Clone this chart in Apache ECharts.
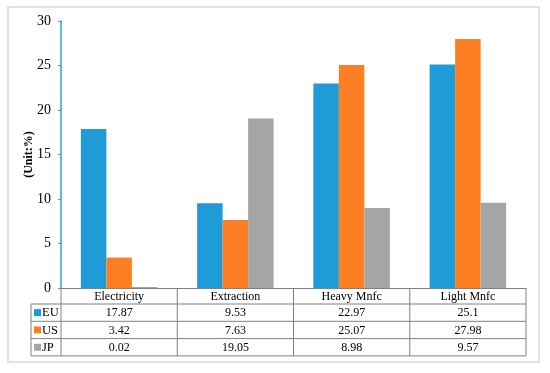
<!DOCTYPE html>
<html><head><meta charset="utf-8">
<script src="https://cdn.jsdelivr.net/npm/echarts@6/dist/echarts.min.js"></script>
<style>html,body{margin:0;padding:0;background:#fff}#c{width:550px;height:373px}</style>
</head><body><div id="c"></div>
<script>
const categories = ['Electricity', 'Extraction', 'Heavy Mnfc', 'Light Mnfc'];
const seriesNames = ['EU', 'US', 'JP'];
const euValues = [17.87, 9.53, 22.97, 25.1];
const usValues = [3.42, 7.63, 25.07, 27.98];
const jpValues = [0.02, 19.05, 8.98, 9.57];
const yTicks = [0, 5, 10, 15, 20, 25, 30];
const axisTitle = '(Unit:%)';

const colors = ['#1f9bd7', '#fd7f24', '#a5a5a5'];
const values = [euValues, usValues, jpValues];
const FONT = 'Liberation Serif';

const chart = echarts.init(document.getElementById('c'));
const G = {left: 61, right: 24, top: 21, bottom: 85};
chart.setOption({
  animation: false,
  backgroundColor: '#fff',
  grid: G,
  xAxis: {
    type: 'category', data: categories,
    axisLine: {lineStyle: {color: '#808080', width: 1}},
    axisTick: {show: false}, axisLabel: {show: false}
  },
  yAxis: {
    type: 'value', min: yTicks[0], max: yTicks[yTicks.length - 1], interval: yTicks[1] - yTicks[0],
    name: axisTitle, nameLocation: 'middle', nameGap: 26, nameRotate: 90, nameMoveOverlap: false,
    nameTextStyle: {fontFamily: FONT, fontSize: 12, fontWeight: 'bold', color: '#000'},
    axisLine: {show: true, lineStyle: {color: '#29a3e0', width: 1.5}},
    axisTick: {show: true, length: 3, lineStyle: {color: '#29a3e0'}},
    axisLabel: {fontFamily: FONT, fontSize: 14, color: '#000', margin: 10},
    splitLine: {show: false}
  },
  series: seriesNames.map((n, i) => ({
    name: n, type: 'bar', data: values[i], barWidth: 25.5, barGap: '0%', barMinHeight: 1,
    itemStyle: {color: colors[i]}
  }))
});

function drawTable() {
  const y0 = chart.convertToPixel({yAxisIndex: 0}, 0);
  const half = (550 - G.left - G.right) / categories.length / 2;
  const centers = categories.map((c, i) => chart.convertToPixel({xAxisIndex: 0}, i));
  const colEdges = [G.left].concat(centers.map(c => c + half));
  const legendLeft = 31;
  const right = colEdges[colEdges.length - 1];
  const rowH = [16, 17.3, 17.3, 17.3];
  const rowEdges = [y0];
  rowH.forEach(h => rowEdges.push(rowEdges[rowEdges.length - 1] + h));
  const line = {stroke: '#808080', lineWidth: 1};
  const g = [];
  g.push({type: 'rect', shape: {x: 8, y: 7, width: 531, height: 355}, style: {fill: null, stroke: '#d9d9d9', lineWidth: 1.5}, silent: true});
  rowEdges.forEach((y, k) => {
    if (k === 0) return;
    g.push({type: 'line', shape: {x1: legendLeft, y1: y, x2: right, y2: y}, style: line, silent: true});
  });
  colEdges.forEach((x) => {
    g.push({type: 'line', shape: {x1: x, y1: y0, x2: x, y2: rowEdges[rowEdges.length - 1]}, style: line, silent: true});
  });
  g.push({type: 'line', shape: {x1: legendLeft, y1: rowEdges[1], x2: legendLeft, y2: rowEdges[rowEdges.length - 1]}, style: line, silent: true});
  categories.forEach((c, i) => {
    g.push({type: 'text', x: centers[i], y: (rowEdges[0] + rowEdges[1]) / 2 + 0.5,
      style: {text: c, fontFamily: FONT, fontSize: 12, fill: '#000', align: 'center', verticalAlign: 'middle'}, silent: true});
  });
  seriesNames.forEach((n, r) => {
    const yc = (rowEdges[r + 1] + rowEdges[r + 2]) / 2 + 0.5;
    g.push({type: 'rect', shape: {x: legendLeft + 3, y: yc - 4, width: 7, height: 7}, style: {fill: colors[r]}, silent: true});
    g.push({type: 'text', x: legendLeft + 11, y: yc, style: {text: n, fontFamily: FONT, fontSize: 12.5, fill: '#000', align: 'left', verticalAlign: 'middle'}, silent: true});
    values[r].forEach((v, i) => {
      g.push({type: 'text', x: centers[i], y: yc,
        style: {text: String(v), fontFamily: FONT, fontSize: 12, fill: '#000', align: 'center', verticalAlign: 'middle'}, silent: true});
    });
  });
  chart.setOption({graphic: g});
}
drawTable();
</script>
</body></html>
